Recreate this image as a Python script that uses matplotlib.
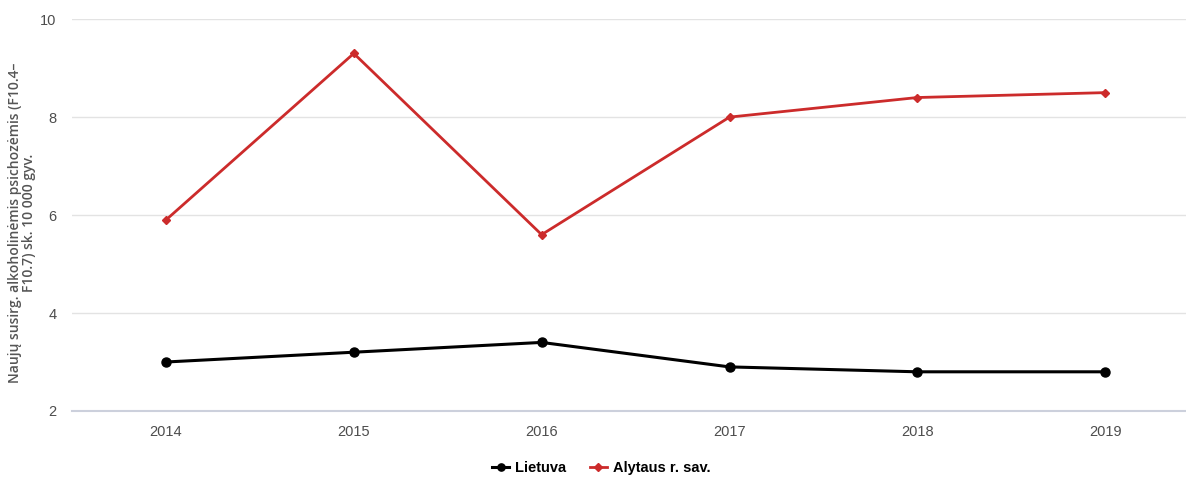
import matplotlib
matplotlib.use("Agg")
import matplotlib.pyplot as plt
from matplotlib import font_manager

years = ["2014", "2015", "2016", "2017", "2018", "2019"]
lietuva = [3.0, 3.2, 3.4, 2.9, 2.8, 2.8]
alytaus = [5.9, 9.3, 5.6, 8.0, 8.4, 8.5]
series_names = ["Lietuva", "Alytaus r. sav."]
y_ticks = [2, 4, 6, 8, 10]

installed = {f.name for f in font_manager.fontManager.ttflist}
if "Liberation Sans Narrow" in installed:
    NARROW = ["Liberation Sans Narrow", "DejaVu Sans"]
else:
    NARROW = ["Liberation Sans", "DejaVu Sans"]

fig = plt.figure(figsize=(11.86, 4.79), dpi=100)
ax = fig.add_axes([0.0607, 0.142, 0.9393, 0.818])

x = list(range(len(years)))
ax.plot(x, lietuva, color="black", linewidth=2.2, marker="o", markersize=6.5,
        label=series_names[0], zorder=3)
ax.plot(x, alytaus, color="#cc2b2b", linewidth=2.0, marker="D", markersize=4.5,
        label=series_names[1], zorder=3)

ax.set_xlim(-0.5, 5.43)
ax.set_ylim(2, 10)
ax.set_yticks(y_ticks)
ax.set_xticks(x)
ax.set_xticklabels(years)
ax.yaxis.grid(True, color="#e3e3e3", linewidth=1)
ax.set_axisbelow(True)

for side in ["top", "right", "left"]:
    ax.spines[side].set_visible(False)
ax.spines["bottom"].set_color("#ccd0dc")
ax.spines["bottom"].set_linewidth(1.5)

ax.tick_params(axis="both", length=0, labelsize=10.5, labelcolor="#4d4d4d")
ax.tick_params(axis="x", pad=10)
ax.tick_params(axis="y", pad=11)
for lbl in ax.get_xticklabels() + ax.get_yticklabels():
    lbl.set_family(NARROW)

ax.set_ylabel("Naujų susirg. alkoholinėmis psichozėmis (F10.4–\nF10.7) sk. 10 000 gyv.",
              fontsize=10, color="#555555", fontweight="semibold", family="Open Sans",
              linespacing=1.0)
ax.yaxis.set_label_coords(-0.032, 0.48)

leg = ax.legend(loc="upper center", bbox_to_anchor=(0.475, -0.095), ncol=2,
                frameon=False, handlelength=1.2, columnspacing=1.6, handletextpad=0.4,
                markerscale=0.8,
                prop={"family": NARROW, "weight": "bold", "size": 10.5})

fig.savefig("out.png", dpi=100)
